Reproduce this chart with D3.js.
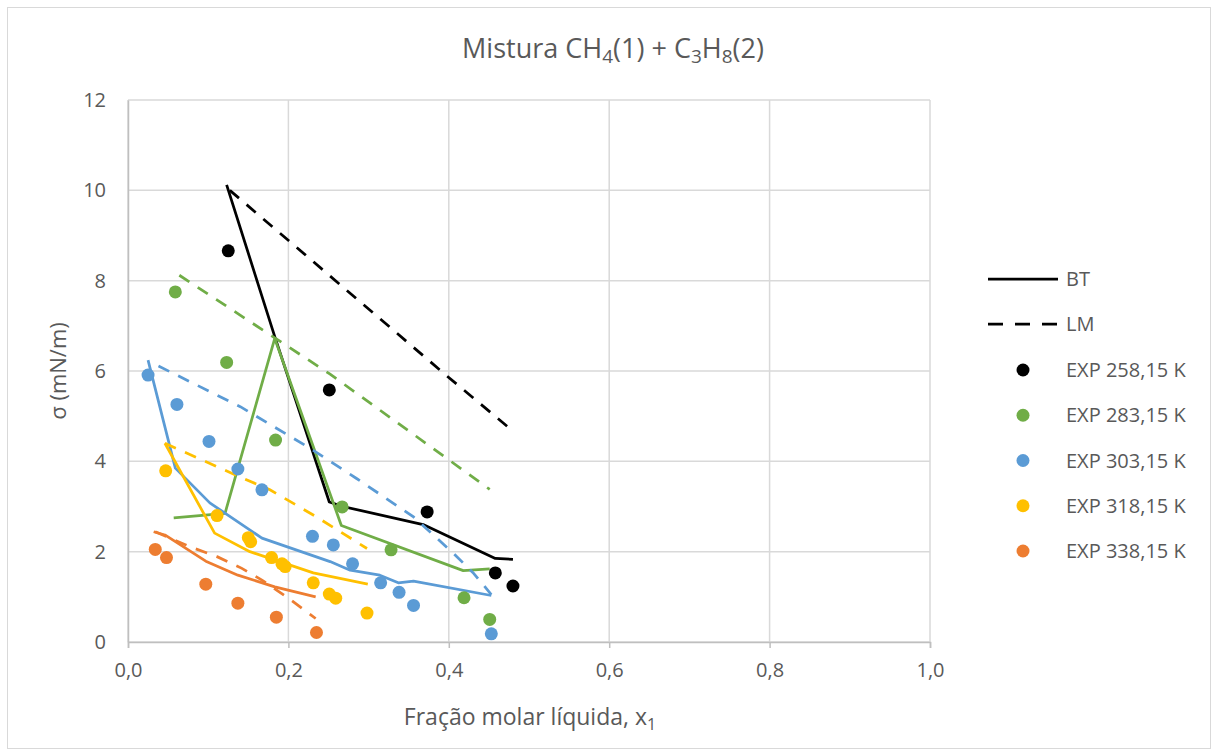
<!DOCTYPE html>
<html>
<head>
<meta charset="utf-8">
<script src="https://cdn.jsdelivr.net/npm/d3@7"></script>
<style>
  html, body { margin: 0; padding: 0; background: #fff; }
  svg { display: block; font-family: "Open Sans", Lato, sans-serif; }
</style>
</head>
<body>
<svg id="chart" width="1218" height="756"></svg>
<script>
// ---------- data ----------
const xTicks = [0, 0.2, 0.4, 0.6, 0.8, 1.0];
const yTicks = [0, 2, 4, 6, 8, 10, 12];
const seriesNames = ["EXP 258,15 K", "EXP 283,15 K", "EXP 303,15 K", "EXP 318,15 K", "EXP 338,15 K"];
const seriesColors = ["#000000", "#70AD47", "#5B9BD5", "#FFC000", "#ED7D31"];

// experimental points [x1, sigma]
const exp258 = [[0.125, 8.66], [0.251, 5.58], [0.373, 2.88], [0.458, 1.53], [0.480, 1.24]];
const exp283 = [[0.059, 7.75], [0.123, 6.19], [0.184, 4.47], [0.267, 2.99], [0.328, 2.04], [0.419, 0.98], [0.451, 0.50]];
const exp303 = [[0.025, 5.91], [0.061, 5.26], [0.101, 4.44], [0.137, 3.83], [0.167, 3.37], [0.230, 2.34], [0.256, 2.15], [0.280, 1.73], [0.315, 1.31], [0.338, 1.10], [0.356, 0.81], [0.453, 0.18]];
const exp318 = [[0.047, 3.79], [0.111, 2.80], [0.150, 2.31], [0.153, 2.22], [0.179, 1.87], [0.192, 1.73], [0.196, 1.67], [0.231, 1.31], [0.251, 1.06], [0.259, 0.97], [0.298, 0.64]];
const exp338 = [[0.034, 2.05], [0.048, 1.87], [0.097, 1.28], [0.137, 0.86], [0.185, 0.55], [0.235, 0.21]];

// BT model (solid lines)
const bt258 = [[0.123, 10.12], [0.183, 6.76], [0.251, 3.10], [0.268, 3.00], [0.368, 2.60], [0.458, 1.85], [0.480, 1.83]];
const bt283 = [[0.057, 2.75], [0.121, 2.85], [0.183, 6.72], [0.266, 2.58], [0.418, 1.58], [0.451, 1.62]];
const bt303 = [[0.025, 6.24], [0.059, 3.85], [0.102, 3.08], [0.167, 2.30], [0.252, 1.78], [0.277, 1.59], [0.314, 1.48], [0.337, 1.31], [0.356, 1.35], [0.453, 1.03]];
const bt318 = [[0.046, 4.40], [0.108, 2.41], [0.152, 2.00], [0.179, 1.84], [0.231, 1.53], [0.299, 1.28]];
const bt338 = [[0.032, 2.44], [0.046, 2.37], [0.097, 1.79], [0.137, 1.48], [0.183, 1.22], [0.234, 1.00]];

// LM model (dashed lines)
const lm258 = [[0.127, 10.00], [0.397, 5.90], [0.480, 4.67]];
const lm283 = [[0.064, 8.12], [0.252, 5.93], [0.451, 3.38]];
const lm303 = [[0.038, 6.11], [0.140, 5.21], [0.227, 4.29], [0.285, 3.62], [0.356, 2.77], [0.406, 1.96], [0.431, 1.52], [0.453, 1.05]];
const lm318 = [[0.046, 4.40], [0.144, 3.62], [0.177, 3.37], [0.235, 2.77], [0.298, 2.07]];
const lm338 = [[0.034, 2.44], [0.077, 2.11], [0.111, 1.89], [0.142, 1.63], [0.167, 1.37], [0.200, 0.97], [0.234, 0.52]];

const expSets = [exp258, exp283, exp303, exp318, exp338];
const btSets = [bt258, bt283, bt303, bt318, bt338];
const lmSets = [lm258, lm283, lm303, lm318, lm338];

// ---------- layout ----------
const svg = d3.select("#chart");
const W = 1218, H = 756;
const plot = { left: 128, right: 930, top: 100, bottom: 642 };
const x = d3.scaleLinear().domain([0, 1]).range([plot.left, plot.right]);
const y = d3.scaleLinear().domain([0, 12]).range([plot.bottom, plot.top]);
const textColor = "#595959";
const font = '"Open Sans", Lato, sans-serif';
const fmt = d => d3.format(".1f")(d).replace(".", ",");

svg.append("rect").attr("x", 7.5).attr("y", 7.5).attr("width", W - 15).attr("height", H - 15)
  .attr("fill", "#fff").attr("stroke", "#D9D9D9").attr("stroke-width", 1);

// gridlines
svg.append("g").selectAll("line").data(yTicks).join("line")
  .attr("x1", plot.left).attr("x2", plot.right)
  .attr("y1", d => y(d)).attr("y2", d => y(d))
  .attr("stroke", "#D9D9D9").attr("stroke-width", 1.5);
svg.append("g").selectAll("line").data(xTicks).join("line")
  .attr("x1", d => x(d)).attr("x2", d => x(d))
  .attr("y1", plot.top).attr("y2", plot.bottom)
  .attr("stroke", "#D9D9D9").attr("stroke-width", 1.5);

// axes
const xAxis = svg.append("g").attr("transform", `translate(0,${plot.bottom})`)
  .call(d3.axisBottom(x).tickValues(xTicks).tickFormat(fmt).tickSize(6).tickPadding(15));
xAxis.select(".domain").attr("stroke", "#BFBFBF").attr("stroke-width", 1.5);
xAxis.selectAll(".tick line").attr("stroke", "#BFBFBF").attr("stroke-width", 1.5);
xAxis.selectAll("text").attr("fill", textColor).attr("font-size", 20).attr("font-family", font);

const yAxis = svg.append("g").attr("transform", `translate(${plot.left},0)`)
  .call(d3.axisLeft(y).tickValues(yTicks).tickFormat(d3.format("d")).tickSize(0).tickPadding(22));
yAxis.select(".domain").attr("stroke", "#BFBFBF").attr("stroke-width", 1.5);
yAxis.selectAll("text").attr("fill", textColor).attr("font-size", 20).attr("font-family", font);

// lines
const line = d3.line().x(d => x(d[0])).y(d => y(d[1]));
btSets.forEach((s, i) => {
  svg.append("path").datum(s).attr("d", line).attr("fill", "none")
    .attr("stroke", seriesColors[i]).attr("stroke-width", 2.75).attr("stroke-linejoin", "round");
});
lmSets.forEach((s, i) => {
  svg.append("path").datum(s).attr("d", line).attr("fill", "none")
    .attr("stroke", seriesColors[i]).attr("stroke-width", 2.75)
    .attr("stroke-dasharray", "12,10");
});
// points
expSets.forEach((s, i) => {
  svg.append("g").selectAll("circle").data(s).join("circle")
    .attr("cx", d => x(d[0])).attr("cy", d => y(d[1])).attr("r", 6.5)
    .attr("fill", seriesColors[i]);
});

// title
const title = svg.append("text").attr("x", 613).attr("y", 58).attr("text-anchor", "middle")
  .attr("fill", textColor).attr("font-size", 27);
title.append("tspan").text("Mistura CH");
title.append("tspan").text("4").attr("font-size", 19).attr("dy", 5);
title.append("tspan").text("(1) + C").attr("dy", -5);
title.append("tspan").text("3").attr("font-size", 19).attr("dy", 5);
title.append("tspan").text("H").attr("dy", -5);
title.append("tspan").text("8").attr("font-size", 19).attr("dy", 5);
title.append("tspan").text("(2)").attr("dy", -5);

// axis titles
const xt = svg.append("text").attr("x", 530).attr("y", 725).attr("text-anchor", "middle")
  .attr("fill", textColor).attr("font-size", 23);
xt.append("tspan").text("Fração molar líquida, x");
xt.append("tspan").text("1").attr("font-size", 16).attr("dy", 5);

svg.append("text").attr("transform", `translate(66,${(plot.top + plot.bottom) / 2}) rotate(-90)`)
  .attr("text-anchor", "middle").attr("fill", textColor).attr("font-size", 22)
  .text("σ (mN/m)");

// legend
const lg = svg.append("g");
const lgX1 = 988, lgX2 = 1058, lgText = 1066;
const lineItems = [{ label: "BT", dash: null, y: 279 }, { label: "LM", dash: "15,12", y: 324 }];
lineItems.forEach(it => {
  lg.append("line").attr("x1", lgX1).attr("x2", lgX2).attr("y1", it.y).attr("y2", it.y)
    .attr("stroke", "#000").attr("stroke-width", 2.75).attr("stroke-dasharray", it.dash);
  lg.append("text").attr("x", lgText).attr("y", it.y).attr("dy", "0.35em")
    .attr("fill", textColor).attr("font-size", 20).text(it.label);
});
const lgY = d3.scaleLinear().domain([0, 4]).range([370, 551]);
seriesNames.forEach((n, i) => {
  lg.append("circle").attr("cx", 1023).attr("cy", lgY(i)).attr("r", 6.5).attr("fill", seriesColors[i]);
  lg.append("text").attr("x", lgText).attr("y", lgY(i)).attr("dy", "0.35em")
    .attr("fill", textColor).attr("font-size", 20).text(n);
});
</script>
</body>
</html>
